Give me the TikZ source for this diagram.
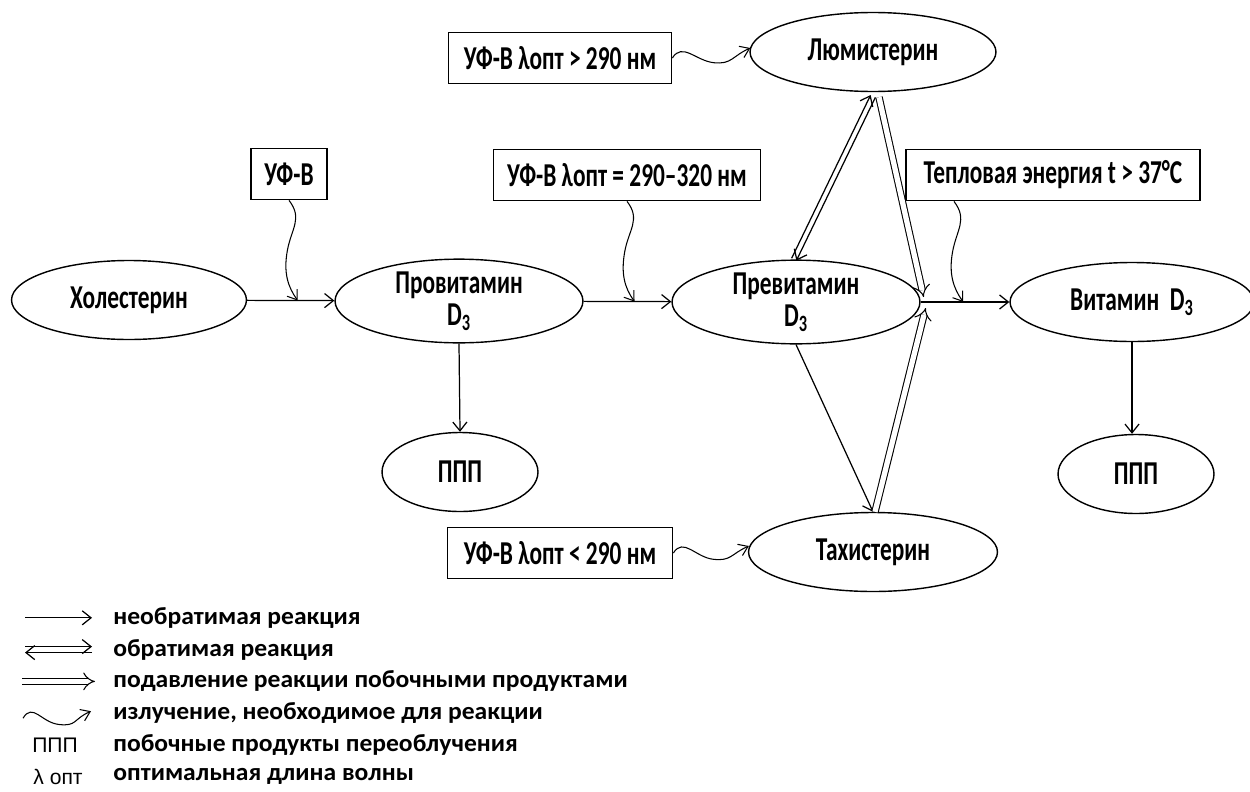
\documentclass[tikz,border=0pt]{standalone}
\usepackage{fontspec}
\setmainfont{Carlito}[FakeStretch=0.7]
\newfontfamily\legfont{Carlito}[FakeStretch=1.04]
\newfontfamily\symfont{Liberation Sans}
\usetikzlibrary{arrows.meta,calc,positioning,shapes.geometric}
\tikzset{
  stage/.style={draw, ellipse, line width=0.8pt, minimum width=#1, minimum height=1.58cm,
                inner sep=0pt, align=center, font=\fontsize{19}{18.5}\selectfont\bfseries},
  stage/.default=4.96cm,
  cond/.style={draw, rectangle, line width=1pt, minimum width=#1, minimum height=1.02cm,
               inner sep=0pt, font=\fontsize{19}{18.5}\selectfont\bfseries},
  irr/.style={-{Straight Barb[length=5pt,width=8pt]}, line width=0.7pt},        % irreversible
  supp/.style={double, double distance=3pt, line width=0.6pt, -{Implies}},      % suppression
  rad/.style={-{Straight Barb[length=5pt,width=7pt]}, line width=0.6pt},        % radiation
  legtxt/.style={anchor=west, inner sep=0pt, font=\legfont\fontsize{14}{16}\selectfont\bfseries},
  symtxt/.style={inner sep=0pt, font=\symfont\fontsize{12}{14}\selectfont},
}
% wave going down from #1 to #2
\newcommand{\wavev}[2]{%
  \draw[rad] (#1) .. controls +(14,18) and +(4,-22) .. ($(#1)!0.5!(#2)+(-6,0)$)
    .. controls +(-4,22) and +(-10,-14) .. (#2);}
% wave going right from #1 to #2
\newcommand{\waveh}[2]{%
  \draw[rad] (#1) .. controls +(10,-16) and +(-18,-2) .. ($(#1)!0.53!(#2)+(0,10)$)
    .. controls +(18,2) and +(-18,8) .. (#2);}

\begin{document}
\begin{tikzpicture}[x=0.02cm, y=-0.02cm]
  \useasboundingbox (0,0) rectangle (1250,791);

  % compounds
  \node[stage=4.70cm] (chol) at (129,300) {Холестерин};
  \node[stage] (prov) at (459,301) {Провитамин\\D\textsubscript{3}};
  \node[stage] (prev) at (796,302) {Превитамин\\D\textsubscript{3}};
  \node[stage=4.88cm] (vit) at (1132,302) {Витамин~~D\textsubscript{3}};
  \node[stage=4.92cm] (lum) at (873,52) {Люмистерин};
  \node[stage=4.98cm] (tach) at (873,552) {Тахистерин};
  \node[stage=3.12cm] (ppp1) at (460,472) {ППП};
  \node[stage=3.12cm] (ppp2) at (1136,474) {ППП};

  % conditions
  \node[cond=1.52cm] (uvb) at (289,174) {УФ-В};
  \node[cond=5.34cm] (uvopt) at (627,175) {УФ-В λопт = 290–320 нм};
  \node[cond=4.46cm] (uvgt) at (560,58) {УФ-В λопт > 290 нм};
  \node[cond=4.50cm] (uvlt) at (560,553) {УФ-В λопт < 290 нм};
  \node[cond=5.88cm] (heat) at (1053,175) {Тепловая энергия t > 37°C};

  % reactions
  \coordinate (J) at (prev.east);
  \draw[irr] (chol) -- (prov);
  \draw[irr] (prov) -- (prev);
  \draw[irr] (J) -- (vit.west);
  \draw[irr] (prov.south) -- (ppp1.north);
  \draw[irr] (vit.south) -- (vit.south |- ppp2.north);
  \draw[irr] (prev.south) -- (tach.north);

  \coordinate (pn) at ($(prev.north)+(-2,0)$);
  \coordinate (ls) at ($(lum.south)+(0,4)$);
  \draw[irr] ($(pn)!1.5pt!90:(ls)$) -- ($(ls)!1.5pt!-90:(pn)$);
  \draw[irr] ($(ls)!1.5pt!90:(pn)$) -- ($(pn)!1.5pt!-90:(ls)$);

  \coordinate (J1) at ($(J)+(3,-5)$);
  \coordinate (J2) at ($(J)+(5,6)$);
  \draw[supp] ($(lum.south)+(6,5)$) -- (J1);
  \draw[supp] ($(tach.north)+(2,0)$) -- (J2);

  % radiation / heat
  \coordinate (w1) at ($(chol.east)!0.58!(prov.west)$);
  \coordinate (w2) at ($(prov.east)!0.58!(prev.west)$);
  \coordinate (w3) at ($(J)!0.48!(vit.west)$);
  \coordinate (h0) at ($(heat.south west)!0.165!(heat.south east)$);
  \coordinate (l1) at ($(lum.west)+(1,-4)$);
  \coordinate (t1) at ($(tach.west)+(1,-6)$);
  \wavev{uvb.south}{w1}
  \wavev{uvopt.south}{w2}
  \wavev{h0}{w3}
  \waveh{uvgt.east}{l1}
  \waveh{uvlt.east}{t1}

  % legend
  \foreach \txt [count=\i] in {необратимая реакция, обратимая реакция,
      подавление реакции побочными продуктами, {излучение, необходимое для реакции},
      побочные продукты переоблучения, оптимальная длина волны}
    \node[legtxt] (leg\i) at (113, 586+31.8*\i) {\txt};

  \draw[irr] ($(leg1.west)+(-88,0)$) -- ($(leg1.west)+(-21,0)$);
  \draw[irr] ($(leg2.west)+(-88,-3)$) -- ($(leg2.west)+(-21,-3)$);
  \draw[irr] ($(leg2.west)+(-21,3)$) -- ($(leg2.west)+(-88,3)$);
  \draw[supp] ($(leg3.west)+(-91,0)$) -- ($(leg3.west)+(-18,0)$);
  \coordinate (lw1) at ($(leg4.west)+(-90,5)$);
  \coordinate (lw2) at ($(leg4.west)+(-22,-2)$);
  \waveh{lw1}{lw2}
  \node[symtxt] (sym5) at ($(leg5.west)+(-58,0)$) {ППП};
  \node[symtxt] (sym6) at ($(leg6.west)+(-55,0)$) {λ опт};
\end{tikzpicture}
\end{document}
